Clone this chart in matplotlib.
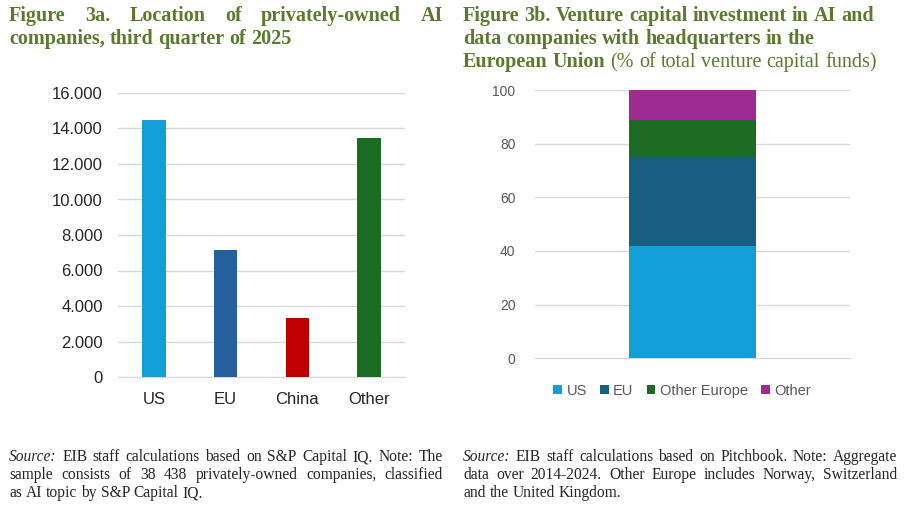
import matplotlib
matplotlib.use("Agg")
import matplotlib.pyplot as plt
from matplotlib.ticker import FuncFormatter, MultipleLocator
from matplotlib.patches import Patch

# ---------------- data ----------------
loc_categories = ["US", "EU", "China", "Other"]
loc_values = [14500, 7150, 3350, 13440]
loc_colors = ["#129fd8", "#23609c", "#c00000", "#1b6b24"]

vc_series = ["US", "EU", "Other Europe", "Other"]
vc_values = [42, 33, 14, 11]
vc_colors = ["#129fd8", "#175e80", "#1b6b24", "#9e2b91"]

title_a = ["Figure 3a. Location of privately-owned AI",
           "companies, third quarter of 2025"]
title_b_bold = ["Figure 3b. Venture capital investment in AI and",
                "data companies with headquarters in the",
                "European Union"]
title_b_normal = "(% of total venture capital funds)"

note_a = ["Source: EIB staff calculations based on S&P Capital IQ. Note: The",
          "sample consists of 38 438 privately-owned companies, classified",
          "as AI topic by S&P Capital IQ."]
note_b = ["Source: EIB staff calculations based on Pitchbook. Note: Aggregate",
          "data over 2014-2024. Other Europe includes Norway, Switzerland",
          "and the United Kingdom."]

W, H = 908, 508
fig = plt.figure(figsize=(W / 100, H / 100), dpi=100)
fig.patch.set_facecolor("white")

TITLE_C = "#5b7a2e"
SANS = "Liberation Sans"
SERIF = "Liberation Serif"
GRID_C = "#d9d9d9"


def fx(px):
    return px / W


def fy(py):
    return 1 - py / H


renderer = fig.canvas.get_renderer()


def word_width(word, **kw):
    t = fig.text(0, 0, word, **kw)
    w = t.get_window_extent(renderer).width
    t.remove()
    return w


def draw_line(words, x0, x1, y, justify, color, size, family):
    """words: list of (text, weight, style)"""
    widths = [word_width(w, fontsize=size, family=family, weight=wt, style=st)
              for (w, wt, st) in words]
    space = size * 100 / 72 * 0.25
    if justify and len(words) > 1:
        gap = max(space * 0.8, (x1 - x0 - sum(widths)) / (len(words) - 1))
    else:
        gap = space
    x = x0
    for (w, wt, st), wd in zip(words, widths):
        fig.text(fx(x), fy(y), w, fontsize=size, family=family, weight=wt,
                 style=st, color=color, ha="left", va="baseline")
        x += wd + gap


# ---------------- titles ----------------
TS = 14.5
for i, line in enumerate(title_a):
    words = [(w, "bold", "normal") for w in line.split()]
    draw_line(words, 9, 443, 21 + 23 * i, i < len(title_a) - 1, TITLE_C, TS, SERIF)

for i, line in enumerate(title_b_bold):
    words = [(w, "bold", "normal") for w in line.split()]
    if i == len(title_b_bold) - 1:
        words += [(w, "normal", "normal") for w in title_b_normal.split()]
    draw_line(words, 463, 900, 21 + 23 * i, False, TITLE_C, TS, SERIF)

# ---------------- notes ----------------
NS = 11.2
NOTE_C = "#262626"
for block, x0, x1 in [(note_a, 9, 443), (note_b, 463, 897)]:
    for i, line in enumerate(block):
        words = []
        for w in line.split():
            st = "italic" if w == "Source:" else "normal"
            words.append((w, "normal", st))
        draw_line(words, x0, x1, 461 + 18 * i, i < len(block) - 1, NOTE_C, NS, SERIF)

# ---------------- chart a ----------------
axa = fig.add_axes([fx(118), fy(377), fx(405 - 118), (377 - 93) / H])
axa.bar(range(len(loc_categories)), loc_values, width=0.325, color=loc_colors, zorder=3)
axa.set_xlim(-0.5, len(loc_categories) - 0.5)
axa.set_ylim(0, 16000)
axa.yaxis.set_major_locator(MultipleLocator(2000))
axa.yaxis.set_major_formatter(FuncFormatter(lambda v, p: f"{int(v):,}".replace(",", ".")))
axa.set_xticks(range(len(loc_categories)))
axa.set_xticklabels(loc_categories)
axa.grid(axis="y", color=GRID_C, linewidth=1, zorder=0)
for s in ["top", "right", "left"]:
    axa.spines[s].set_visible(False)
axa.spines["bottom"].set_color(GRID_C)
axa.tick_params(axis="both", length=0, labelsize=12, colors="#262626")
axa.tick_params(axis="y", pad=11)
axa.tick_params(axis="x", pad=11)
for lab in axa.get_xticklabels() + axa.get_yticklabels():
    lab.set_family(SANS)

# ---------------- chart b ----------------
axb = fig.add_axes([fx(535), fy(358.3), fx(315), 268.3 / H])
bottom = 0
for name, val, col in zip(vc_series, vc_values, vc_colors):
    axb.bar([0], [val], bottom=bottom, width=0.402, color=col, zorder=3, label=name)
    bottom += val
axb.set_xlim(-0.5, 0.5)
axb.set_ylim(0, 100)
axb.yaxis.set_major_locator(MultipleLocator(20))
axb.set_xticks([])
axb.grid(axis="y", color=GRID_C, linewidth=1, zorder=0)
for s in ["top", "right", "left"]:
    axb.spines[s].set_visible(False)
axb.spines["bottom"].set_color(GRID_C)
axb.tick_params(axis="y", length=0, labelsize=10, colors="#595959", pad=14)
for lab in axb.get_yticklabels():
    lab.set_family(SANS)

handles = [Patch(facecolor=c, edgecolor="none") for c in vc_colors]
leg = fig.legend(handles, vc_series, loc="center", bbox_to_anchor=(fx(682), fy(391)),
                 ncol=4, frameon=False, handlelength=0.6, handleheight=0.6,
                 handletextpad=0.3, columnspacing=0.9,
                 prop={"family": SANS, "size": 10.5})
for t in leg.get_texts():
    t.set_color("#595959")

fig.savefig("out.png", dpi=100, facecolor="white")
